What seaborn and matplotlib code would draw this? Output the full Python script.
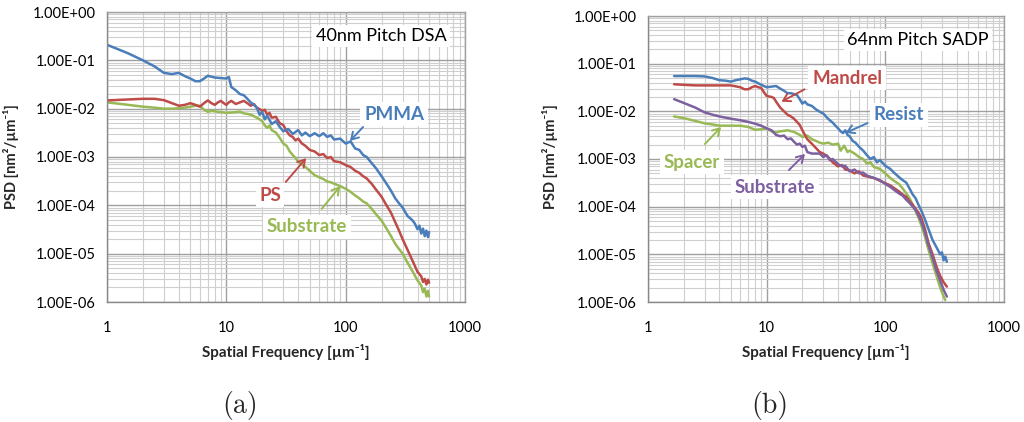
import numpy as np
import pandas as pd
import matplotlib
matplotlib.use("Agg")
import matplotlib.pyplot as plt
import matplotlib.ticker as mticker
import seaborn as sns

# ---------------- data ----------------
a_pmma_x = [1, 1.5, 2, 2.5, 3, 3.5, 4, 4.5, 5, 5.5, 6, 6.5, 7, 8, 9, 10, 10.5, 11, 12, 13, 14, 15, 16, 17, 18, 19, 20,
            21, 22, 24, 26, 28, 30, 33, 36, 40, 43, 46, 50, 55, 60, 65, 70, 75, 80, 90, 100, 110, 120, 130, 140, 150,
            165, 180, 200, 220, 240, 260, 280, 300, 330, 360, 380, 400, 415, 430, 445, 460, 475, 490, 500]
a_pmma_y = [0.21, 0.14, 0.10, 0.075, 0.055, 0.052, 0.055, 0.047, 0.042, 0.037, 0.037, 0.042, 0.048, 0.044, 0.043,
            0.042, 0.045, 0.028, 0.024, 0.020, 0.019, 0.016, 0.0135, 0.012, 0.0105, 0.0075, 0.0085, 0.0060, 0.0072,
            0.0048, 0.0055, 0.0042, 0.0034, 0.0038, 0.0030, 0.0036, 0.0028, 0.0032, 0.0027, 0.0031, 0.0027, 0.0031,
            0.0026, 0.0028, 0.0023, 0.0024, 0.0019, 0.0021, 0.0015, 0.0014, 0.0011, 0.00100, 0.00075, 0.00058,
            0.00040, 0.00028, 0.00020, 0.00014, 0.00011, 9.0e-5, 6.0e-5, 5.0e-5, 4.2e-5, 3.2e-5, 3.8e-5, 2.6e-5,
            3.3e-5, 2.3e-5, 3.0e-5, 2.2e-5, 2.8e-5]

a_ps_x = [1, 1.5, 2, 2.5, 3, 3.5, 4, 4.5, 5, 5.5, 6, 6.5, 7, 7.5, 8, 8.5, 9, 9.5, 10, 10.5, 11, 12, 13, 14, 15, 16,
          17, 18, 19, 20, 21, 22, 23, 24, 26, 28, 30, 32, 34, 36, 38, 40, 43, 46, 50, 55, 60, 65, 70, 75, 80, 90,
          100, 110, 120, 130, 140, 150, 165, 180, 200, 220, 240, 260, 280, 300, 330, 360, 400, 430, 445, 460, 475,
          490, 500]
a_ps_y = [0.0148, 0.0155, 0.016, 0.016, 0.015, 0.013, 0.0115, 0.012, 0.013, 0.012, 0.011, 0.013, 0.0148, 0.013,
          0.012, 0.0135, 0.0145, 0.013, 0.012, 0.0135, 0.0145, 0.0125, 0.0135, 0.0145, 0.013, 0.0115, 0.0125,
          0.0105, 0.0098, 0.0090, 0.0095, 0.0075, 0.0082, 0.0065, 0.0068, 0.0050, 0.0046, 0.0034, 0.0028, 0.0026,
          0.0022, 0.0024, 0.0019, 0.0017, 0.0014, 0.0013, 0.0011, 0.00115, 0.00095, 0.0010, 0.00082, 0.00078,
          0.00068, 0.00062, 0.00052, 0.00047, 0.00040, 0.00036, 0.00028, 0.00021, 0.00015, 0.00010, 7.0e-5,
          4.5e-5, 3.0e-5, 2.0e-5, 1.2e-5, 7.5e-6, 4.2e-6, 3.4e-6, 2.6e-6, 3.0e-6, 2.3e-6, 2.9e-6, 2.5e-6]

a_sub_x = [1, 1.5, 2, 2.5, 3, 3.5, 4, 4.5, 5, 5.5, 6, 6.5, 7, 7.5, 8, 9, 10, 11, 12, 13, 14, 15, 16, 17, 18, 19, 20,
           21, 22, 23, 24, 26, 28, 30, 32, 34, 36, 38, 40, 43, 46, 50, 55, 60, 65, 70, 75, 80, 90, 100, 110, 120,
           130, 140, 150, 165, 180, 200, 220, 240, 260, 280, 300, 330, 360, 400, 430, 445, 460, 475, 490, 500]
a_sub_y = [0.0135, 0.012, 0.011, 0.0105, 0.010, 0.010, 0.0102, 0.0105, 0.011, 0.0115, 0.0115, 0.0095, 0.0086,
           0.0090, 0.0088, 0.0085, 0.0082, 0.0083, 0.0085, 0.0087, 0.0080, 0.0078, 0.0075, 0.0070, 0.0065, 0.0060,
           0.0055, 0.0045, 0.0040, 0.0045, 0.0036, 0.0032, 0.0025, 0.0019, 0.0017, 0.0013, 0.0011, 0.00095,
           0.00080, 0.00070, 0.00062, 0.00052, 0.00042, 0.00038, 0.00035, 0.00031, 0.00030, 0.00028, 0.00025,
           0.00022, 0.00019, 0.00016, 0.00014, 0.00012, 0.00011, 8.5e-5, 6.5e-5, 4.8e-5, 3.3e-5, 2.3e-5, 1.6e-5,
           1.25e-5, 1.0e-5, 6.5e-6, 4.5e-6, 2.8e-6, 2.2e-6, 1.6e-6, 1.9e-6, 1.3e-6, 1.7e-6, 1.3e-6]

b_resist_x = [1.66, 2, 2.5, 3, 3.5, 4, 4.5, 5, 5.5, 6, 6.5, 7, 7.5, 8, 9, 10, 11, 12, 13, 14, 15, 16, 17, 18, 19,
              20, 21, 22, 24, 26, 28, 30, 32, 34, 36, 38, 40, 42, 44, 46, 48, 50, 53, 56, 60, 65, 70, 75, 80, 85,
              90, 100, 110, 120, 130, 140, 150, 160, 170, 180, 190, 200, 215, 230, 250, 270, 290, 300, 310, 320, 330]
b_resist_y = [0.055, 0.055, 0.055, 0.054, 0.050, 0.045, 0.044, 0.042, 0.045, 0.047, 0.049, 0.048, 0.044, 0.042,
              0.036, 0.032, 0.033, 0.034, 0.030, 0.027, 0.024, 0.024, 0.023, 0.022, 0.018, 0.0145, 0.016, 0.014,
              0.013, 0.011, 0.0098, 0.0090, 0.0075, 0.0065, 0.0058, 0.0050, 0.0044, 0.0038, 0.0035, 0.0040, 0.0032,
              0.0030, 0.0024, 0.0022, 0.0018, 0.0015, 0.0012, 0.0010, 0.0011, 0.00085, 0.00095, 0.00072, 0.00062,
              0.00050, 0.00042, 0.00036, 0.00032, 0.00024, 0.00018, 0.00015, 0.00011, 8.5e-5, 5.5e-5, 3.5e-5,
              2.0e-5, 1.4e-5, 1.0e-5, 1.1e-5, 7.5e-6, 9.0e-6, 7.0e-6]

b_mandrel_x = [1.66, 2, 2.5, 3, 4, 5, 6, 6.5, 7, 7.5, 8, 8.5, 9, 9.5, 10, 11, 11.5, 12, 13, 14, 15, 16, 17, 18, 19,
               20, 21, 22, 24, 26, 28, 30, 33, 36, 40, 43, 46, 50, 55, 60, 65, 70, 80, 90, 100, 110, 120, 130, 140,
               150, 160, 170, 180, 190, 200, 215, 230, 250, 270, 290, 310, 330]
b_mandrel_y = [0.037, 0.036, 0.035, 0.035, 0.035, 0.035, 0.032, 0.029, 0.029, 0.032, 0.034, 0.032, 0.031, 0.025,
               0.021, 0.020, 0.019, 0.016, 0.012, 0.010, 0.0085, 0.0078, 0.0070, 0.0060, 0.0052, 0.0040, 0.0032,
               0.0026, 0.0021, 0.0017, 0.0014, 0.0013, 0.0011, 0.00085, 0.00070, 0.00075, 0.00060, 0.00058,
               0.00050, 0.00055, 0.00045, 0.00043, 0.00040, 0.00035, 0.00031, 0.00028, 0.00024, 0.00021, 0.00018,
               0.00016, 0.00013, 0.00011, 9.0e-5, 7.5e-5, 6.0e-5, 3.5e-5, 1.8e-5, 1.0e-5, 5.5e-6, 3.5e-6, 2.6e-6,
               2.1e-6]

b_spacer_x = [1.66, 2, 2.5, 3, 3.5, 4, 5, 6, 7, 8, 9, 10, 11, 12, 13, 15, 17, 19, 20, 22, 24, 26, 28, 30, 33, 36,
              40, 42, 45, 48, 50, 55, 60, 65, 70, 75, 80, 90, 100, 110, 120, 130, 140, 150, 160, 170, 180, 190, 200,
              215, 230, 250, 270, 290, 310, 320]
b_spacer_y = [0.0078, 0.0072, 0.0063, 0.0056, 0.0053, 0.0050, 0.0050, 0.0050, 0.0047, 0.0041, 0.0042, 0.0044,
              0.0038, 0.0036, 0.0038, 0.0040, 0.0037, 0.0032, 0.0029, 0.0031, 0.0026, 0.0024, 0.0022, 0.0021,
              0.0022, 0.0020, 0.0021, 0.0015, 0.0019, 0.0014, 0.0015, 0.0013, 0.0011, 0.0010, 0.00080, 0.00085,
              0.00068, 0.00062, 0.00050, 0.00040, 0.00034, 0.00030, 0.00024, 0.00019, 0.00015, 0.00011, 8.0e-5,
              6.0e-5, 4.2e-5, 2.4e-5, 1.3e-5, 6.5e-6, 3.5e-6, 2.0e-6, 1.3e-6, 1.1e-6]

b_sub_x = [1.66, 2, 2.5, 3, 3.5, 4, 5, 6, 7, 8, 9, 10, 11, 12, 13, 14, 15, 16, 17, 18, 19, 20, 21, 22, 24, 26, 28,
           30, 32, 34, 36, 40, 43, 46, 50, 55, 60, 65, 70, 80, 90, 100, 110, 120, 130, 140, 150, 160, 170, 180,
           190, 200, 215, 230, 250, 270, 290, 310, 330]
b_sub_y = [0.018, 0.015, 0.012, 0.0095, 0.0085, 0.0078, 0.0070, 0.0065, 0.0060, 0.0055, 0.0050, 0.0044, 0.0040,
           0.0032, 0.0030, 0.0031, 0.0026, 0.0027, 0.0023, 0.0020, 0.0021, 0.0018, 0.0019, 0.0014, 0.0013, 0.0013,
           0.0013, 0.0011, 0.0012, 0.00095, 0.0010, 0.00078, 0.00070, 0.00072, 0.00055, 0.00060, 0.00050, 0.00052,
           0.00045, 0.00040, 0.00036, 0.00030, 0.00026, 0.00022, 0.00019, 0.00017, 0.00014, 0.00012, 0.00010,
           8.5e-5, 6.5e-5, 5.0e-5, 3.0e-5, 1.6e-5, 8.5e-6, 4.5e-6, 2.8e-6, 1.8e-6, 1.3e-6]

y_tick_values = [1e0, 1e-1, 1e-2, 1e-3, 1e-4, 1e-5, 1e-6]
y_tick_labels = ["1.00E+00", "1.00E-01", "1.00E-02", "1.00E-03", "1.00E-04", "1.00E-05", "1.00E-06"]
x_tick_values = [1, 10, 100, 1000]
x_tick_labels = ["1", "10", "100", "1000"]

BLUE, RED, GREEN, PURPLE = "#4a7ebb", "#be4b48", "#98b954", "#7d60a0"

# ---------------- build frames ----------------
def frame(pairs):
    rows = []
    for name, xs, ys in pairs:
        rows.append(pd.DataFrame({"f": xs, "psd": ys, "series": name}))
    return pd.concat(rows, ignore_index=True)

df_a = frame([("PMMA", a_pmma_x, a_pmma_y), ("PS", a_ps_x, a_ps_y), ("Substrate", a_sub_x, a_sub_y)])
df_b = frame([("Resist", b_resist_x, b_resist_y), ("Mandrel", b_mandrel_x, b_mandrel_y),
              ("Spacer", b_spacer_x, b_spacer_y), ("Substrate", b_sub_x, b_sub_y)])

sns.set_theme(style="white")
plt.rcParams["font.family"] = ["Lato", "DejaVu Sans"]

W, H = 1024, 422
fig = plt.figure(figsize=(W / 100, H / 100), dpi=100)
fig.patch.set_facecolor("white")

def px_axes(l, t, r, b):
    return fig.add_axes([l / W, 1 - b / H, (r - l) / W, (b - t) / H])

ax_a = px_axes(107, 12, 465, 302)
ax_b = px_axes(648, 16, 1004, 302)

def style(ax):
    ax.set_xscale("log")
    ax.set_yscale("log")
    ax.set_xlim(1, 1000)
    ax.set_ylim(1e-6, 1)
    ax.set_yticks(y_tick_values, y_tick_labels)
    ax.set_xticks(x_tick_values, x_tick_labels)
    ax.xaxis.set_minor_locator(mticker.LogLocator(base=10, subs=np.arange(2, 10)))
    ax.yaxis.set_minor_locator(mticker.LogLocator(base=10, subs=np.arange(2, 10), numticks=20))
    ax.xaxis.set_minor_formatter(mticker.NullFormatter())
    ax.yaxis.set_minor_formatter(mticker.NullFormatter())
    ax.grid(True, which="major", color="#a0a0a0", lw=1.0)
    ax.grid(True, which="minor", color="#cfcfcf", lw=0.8)
    ax.set_axisbelow(True)
    for s in ax.spines.values():
        s.set_color("#a0a0a0")
        s.set_linewidth(1.0)
    ax.spines["left"].set_color("#888888")
    ax.spines["bottom"].set_color("#888888")
    ax.tick_params(which="both", length=0)
    ax.tick_params(axis="y", labelsize=10.5, pad=8, colors="black")
    ax.tick_params(axis="x", labelsize=10.5, pad=14, colors="black")
    ax.set_xlabel("")
    ax.set_ylabel("")
    leg = ax.get_legend()
    if leg is not None:
        leg.remove()

sns.lineplot(data=df_a, x="f", y="psd", hue="series", palette={"PMMA": BLUE, "PS": RED, "Substrate": GREEN},
             hue_order=["Substrate", "PS", "PMMA"], estimator=None, sort=False, lw=1.8, ax=ax_a)
sns.lineplot(data=df_b, x="f", y="psd", hue="series",
             palette={"Resist": BLUE, "Mandrel": RED, "Spacer": GREEN, "Substrate": PURPLE},
             hue_order=["Spacer", "Resist", "Mandrel", "Substrate"], estimator=None, sort=False, lw=1.8, ax=ax_b)
style(ax_a)
style(ax_b)

def label(txt, pos, color, bold=True, size=13.5):
    fig.text(pos[0] / W, 1 - pos[1] / H, txt, color=color, ha="center", va="center", fontsize=size,
             fontweight="bold" if bold else "normal",
             bbox=dict(facecolor="white", edgecolor="none", pad=2.5))

def arrow(start, end, color):
    fig.patches.append(matplotlib.patches.FancyArrowPatch(
        (start[0] / W, 1 - start[1] / H), (end[0] / W, 1 - end[1] / H), transform=fig.transFigure,
        arrowstyle="->,head_length=5,head_width=3", color=color, lw=1.4, mutation_scale=1))

# panel (a)
label("40nm Pitch DSA", (381, 36), "black", bold=False, size=13)
label("PMMA", (394, 114), BLUE)
arrow((365, 125), (348, 143), BLUE)
label("PS", (270, 195), RED)
arrow((284, 184), (308, 156), RED)
label("Substrate", (307, 227), GREEN)
arrow((320, 211), (342, 184), GREEN)

# panel (b)
label("64nm Pitch SADP", (918, 40), "black", bold=False, size=13)
label("Mandrel", (847, 78), RED)
arrow((807, 88), (779, 103), RED)
label("Resist", (899, 115), BLUE)
arrow((870, 122), (843, 134), BLUE)
label("Spacer", (692, 162), GREEN)
arrow((703, 146), (723, 125), GREEN)
label("Substrate", (775, 187), PURPLE)
arrow((787, 172), (807, 152), PURPLE)

# axis titles
for x in (11, 550):
    fig.text(x / W, 1 - 157 / H, "PSD [nm²/µm⁻¹]", rotation=90, ha="center", va="center",
             fontsize=10.5, fontweight="bold")
for x in (286, 826):
    fig.text(x / W, 1 - 352 / H, "Spatial Frequency [µm⁻¹]", ha="center", va="center",
             fontsize=11, fontweight="bold")

fig.text(240 / W, 1 - 405 / H, "(a)", ha="center", va="center", fontsize=20, family=["cmr10", "DejaVu Serif"])
fig.text(770 / W, 1 - 405 / H, "(b)", ha="center", va="center", fontsize=20, family=["cmr10", "DejaVu Serif"])

fig.savefig("out.png", dpi=100, facecolor="white")
